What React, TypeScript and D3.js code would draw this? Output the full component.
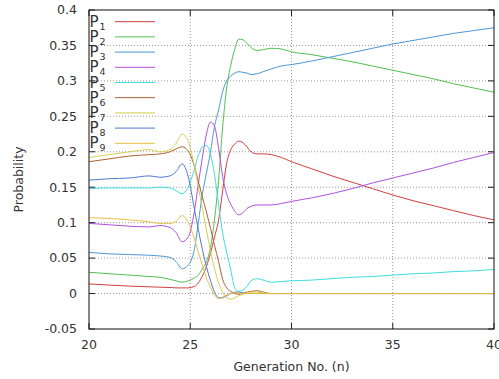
import React from "react";
import * as d3 from "d3";

const nValues = [20,21,22,23,23.5,24,24.3,24.6,24.9,25.2,25.4,25.6,25.8,26,26.2,26.4,26.6,26.8,27,27.2,27.4,27.6,27.8,28,28.3,28.6,29,29.5,30,31,32,33,34,35,36,37,38,39,40];

const p1 = [.0136,.012,.0105,.0095,.009,.0085,.008,.008,.008,.010,.015,.025,.038,.057,.080,.104,.145,.184,.203,.211,.215,.213,.207,.200,.197,.197,.196,.192,.186,.176,.166,.157,.148,.139,.131,.124,.117,.110,.104];
const p2 = [.030,.028,.026,.024,.023,.020,.018,.016,.018,.022,.026,.035,.045,.065,.105,.160,.235,.290,.322,.345,.359,.358,.353,.347,.343,.344,.346,.345,.341,.337,.332,.327,.321,.315,.309,.303,.296,.290,.284];
const p3 = [.058,.056,.055,.054,.053,.051,.045,.035,.040,.062,.100,.140,.170,.200,.236,.259,.285,.300,.307,.311,.313,.312,.311,.309,.310,.313,.317,.321,.323,.328,.334,.340,.346,.352,.357,.362,.367,.371,.375];
const p4 = [.099,.097,.095,.094,.096,.093,.086,.073,.080,.115,.155,.192,.225,.242,.236,.205,.165,.140,.126,.116,.111,.114,.120,.123,.125,.125,.125,.127,.130,.135,.141,.148,.156,.163,.170,.177,.185,.192,.199];
const p5 = [.148,.149,.149,.149,.150,.149,.145,.141,.150,.175,.195,.207,.209,.196,.168,.125,.085,.058,.033,.008,.003,.005,.010,.018,.021,.019,.016,.017,.018,.019,.021,.023,.024,.026,.028,.029,.031,.032,.034];
const p6 = [.186,.190,.194,.196,.197,.200,.204,.207,.201,.180,.158,.136,.115,.092,.068,.045,.020,.008,.003,.000,-.001,.000,.002,.003,.004,.002,0,0,0,0,0,0,0,0,0,0,0,0,0];
const p7 = [.192,.196,.200,.203,.200,.203,.212,.225,.215,.180,.150,.120,.090,.060,.035,.015,.002,-.006,-.008,-.006,-.003,-.001,.001,.002,.002,.001,0,0,0,0,0,0,0,0,0,0,0,0,0];
const p8 = [.160,.162,.163,.166,.164,.166,.172,.183,.165,.120,.090,.062,.038,.018,.002,-.006,-.006,-.003,.000,.002,.002,.001,0,0,0,0,0,0,0,0,0,0,0,0,0,0,0,0,0];
const p9 = [.107,.106,.104,.101,.099,.099,.102,.110,.100,.078,.058,.040,.022,.009,-.002,-.007,-.005,-.002,.000,.001,.001,0,0,0,0,0,0,0,0,0,0,0,0,0,0,0,0,0,0];

const seriesNames = ["1","2","3","4","5","6","7","8","9"];
const seriesValues = [p1,p2,p3,p4,p5,p6,p7,p8,p9];
const seriesColors = ["#d04040","#50c050","#4a98d8","#b050e0","#40dcdc","#b06030","#d4d050","#5078d0","#e8c040"];

const xTicks = [20,25,30,35,40];
const yTicks = [-0.05,0,0.05,0.1,0.15,0.2,0.25,0.3,0.35,0.4];

const W = 499, H = 379;
const L = 89, R = 494, T = 10, B = 329;

export default function App() {
  const x = d3.scaleLinear().domain([20, 40]).range([L, R]);
  const y = d3.scaleLinear().domain([-0.05, 0.4]).range([B, T]);
  const line = d3.line<[number, number]>()
    .x(d => x(d[0]))
    .y(d => y(d[1]))
    .curve(d3.curveMonotoneX);
  const font = "DejaVu Sans, sans-serif";
  const txt = "#333";
  return (
    <svg width={W} height={H} style={{ position: "absolute", left: 0, top: 0, background: "#fff" }}>
      <rect x={0} y={0} width={W} height={H} fill="#fff" />
      {/* grid */}
      {xTicks.filter(t => t > 20 && t < 40).map(t => (
        <line key={"gx" + t} x1={x(t)} x2={x(t)} y1={T} y2={B} stroke="#999" strokeWidth={1} strokeDasharray="1,2" />
      ))}
      {yTicks.filter(t => t > -0.05 && t < 0.4).map(t => (
        <line key={"gy" + t} x1={L} x2={R} y1={y(t)} y2={y(t)} stroke="#999" strokeWidth={1} strokeDasharray="1,2" />
      ))}
      {/* ticks */}
      {yTicks.map(t => (
        <g key={"ty" + t}>
          <line x1={L} x2={L + 6} y1={y(t)} y2={y(t)} stroke="#222" />
          <line x1={R - 6} x2={R} y1={y(t)} y2={y(t)} stroke="#222" />
          <text x={L - 12} y={y(t)} dy="0.35em" textAnchor="end" fontFamily={font} fontSize={12.5} fill={txt}>{String(t)}</text>
        </g>
      ))}
      {xTicks.map(t => (
        <g key={"tx" + t}>
          <line x1={x(t)} x2={x(t)} y1={B} y2={B - 6} stroke="#222" />
          <line x1={x(t)} x2={x(t)} y1={T} y2={T + 6} stroke="#222" />
          <text x={x(t)} y={B + 20} textAnchor="middle" fontFamily={font} fontSize={12.5} fill={txt}>{String(t)}</text>
        </g>
      ))}
      {/* series */}
      {seriesValues.map((vals, i) => (
        <path key={"s" + i} d={line(vals.map((v, j) => [nValues[j], v] as [number, number])) || ""} fill="none" stroke={seriesColors[i]} strokeWidth={1} />
      ))}
      {/* frame */}
      <rect x={L} y={T} width={R - L} height={B - T} fill="none" stroke="#111" strokeWidth={1} />
      {/* legend */}
      {seriesNames.map((nm, i) => {
        const ly = 21.7 + i * 15.2;
        return (
          <g key={"lg" + i}>
            <text x={89.5} y={ly + 5} fontFamily={font} fontSize={15} fill={txt}>
              P<tspan dx={1} dy={3} fontSize={9.5}>{nm}</tspan>
            </text>
            <line x1={115} x2={155} y1={ly} y2={ly} stroke={seriesColors[i]} strokeWidth={1} />
          </g>
        );
      })}
      {/* axis titles */}
      <text x={(L + R) / 2} y={371} textAnchor="middle" fontFamily={font} fontSize={12.5} fill={txt}>Generation No. (n)</text>
      <text transform={`translate(23, ${(T + B) / 2 + 10}) rotate(-90)`} textAnchor="middle" fontFamily={font} fontSize={12.5} fill={txt}>Probability</text>
    </svg>
  );
}
